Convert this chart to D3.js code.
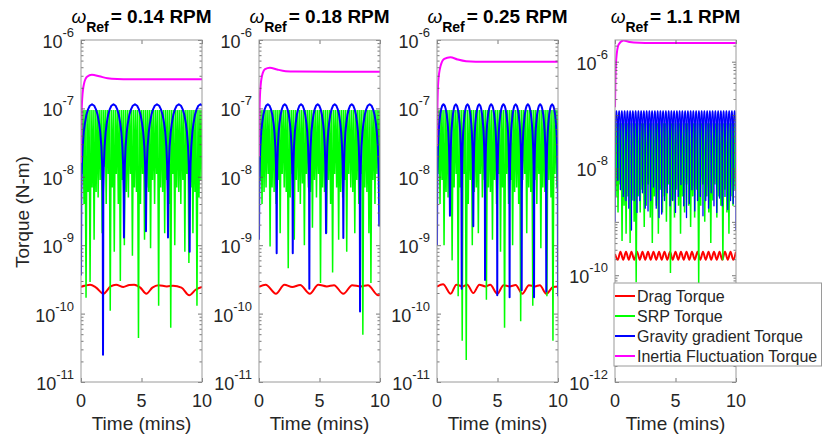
<!DOCTYPE html>
<html>
<head>
<meta charset="utf-8">
<script src="https://cdn.jsdelivr.net/npm/d3@7"></script>
<style>
	body { margin: 0; background: #fff; }
	svg { display: block; }
</style>
</head>
<body>
<script>
const width = 822;
const height = 438;

// DATA ================================================================
const rpmLabels = ['0.14', '0.18', '0.25', '1.1'];
const xTicks = [0, 5, 10];
const yDomains = [
	[1e-11, 1e-6],
	[1e-11, 1e-6],
	[1e-11, 1e-6],
	[1e-12, 2.55e-6],
];
const yLabelTicks = [
	[1e-6, 1e-7, 1e-8, 1e-9, 1e-10, 1e-11],
	[1e-6, 1e-7, 1e-8, 1e-9, 1e-10, 1e-11],
	[1e-6, 1e-7, 1e-8, 1e-9, 1e-10, 1e-11],
	[1e-6, 1e-8, 1e-10, 1e-12],
];
const legendLabels = ['Drag Torque', 'SRP Torque', 'Gravity gradient Torque', 'Inertia Fluctuation Torque'];
const seriesColors = ['#ff0000', '#00ff00', '#0000ff', '#ff00ff'];

// Drag torque [time, value]
const drag1 = [[0, 2.47e-10], [0.3, 2.55e-10], [0.75, 2.65e-10], [1.25, 2.4e-10], [1.85, 1.95e-10], [2.45, 2.5e-10], [2.9, 2.65e-10], [3.5, 2.45e-10], [4.0, 2.62e-10], [4.4, 2.65e-10], [4.9, 2.4e-10], [5.4, 1.95e-10], [5.9, 2.4e-10], [6.4, 2.6e-10], [7.1, 2.5e-10], [7.6, 2.55e-10], [8.3, 2.4e-10], [8.95, 1.85e-10], [9.5, 2.25e-10], [10, 2.45e-10]];
const drag2 = [[0, 2.47e-10], [0.55, 2.65e-10], [1.4, 1.95e-10], [2.1, 2.65e-10], [2.75, 2.45e-10], [3.4, 2.62e-10], [4.2, 1.95e-10], [4.9, 2.65e-10], [5.6, 2.5e-10], [6.2, 2.6e-10], [6.97, 1.95e-10], [7.7, 2.6e-10], [8.4, 2.5e-10], [9.0, 2.6e-10], [9.85, 1.85e-10], [10, 1.9e-10]];
const drag3 = [[0, 2.47e-10], [0.5, 2.68e-10], [1.13, 1.95e-10], [1.6, 2.65e-10], [2.1, 2.5e-10], [2.5, 2.65e-10], [3.0, 2.0e-10], [3.5, 2.65e-10], [4.0, 2.5e-10], [4.4, 2.65e-10], [4.98, 1.95e-10], [5.5, 2.6e-10], [6.0, 2.5e-10], [6.5, 2.62e-10], [7.05, 1.95e-10], [7.6, 2.6e-10], [8.1, 2.5e-10], [8.5, 2.6e-10], [9.03, 1.95e-10], [9.6, 2.45e-10], [10, 2.5e-10]];
const drag4 = [[0, 2.5e-10], [0.23, 1.95e-10], [0.45, 2.75e-10], [0.68, 1.95e-10], [0.91, 2.75e-10], [1.14, 1.95e-10], [1.36, 2.75e-10], [1.59, 1.95e-10], [1.82, 2.75e-10], [2.05, 1.95e-10], [2.27, 2.75e-10], [2.5, 1.95e-10], [2.73, 2.75e-10], [2.95, 1.95e-10], [3.18, 2.75e-10], [3.41, 1.95e-10], [3.64, 2.75e-10], [3.86, 1.95e-10], [4.09, 2.75e-10], [4.32, 1.95e-10], [4.55, 2.75e-10], [4.77, 1.95e-10], [5.0, 2.75e-10], [5.23, 1.95e-10], [5.45, 2.75e-10], [5.68, 1.95e-10], [5.91, 2.75e-10], [6.14, 1.95e-10], [6.36, 2.75e-10], [6.59, 1.95e-10], [6.82, 2.75e-10], [7.05, 1.95e-10], [7.27, 2.75e-10], [7.5, 1.95e-10], [7.73, 2.75e-10], [7.95, 1.95e-10], [8.18, 2.75e-10], [8.41, 1.95e-10], [8.64, 2.75e-10], [8.86, 1.95e-10], [9.09, 2.75e-10], [9.32, 1.95e-10], [9.55, 2.75e-10], [9.77, 1.95e-10], [10, 2.75e-10]];

// SRP torque: start value, oscillation peak and the 60 troughs over 10 mins
const srpStart = [7e-8, 7e-8, 6e-8, 7e-8];
const srpPeak = [9.5e-8, 9.5e-8, 9.5e-8, 7e-8];
const srpTroughs1 = [1.1e-8, 4e-9, 1.7e-10, 6e-9, 2.9e-10, 7e-9, 1.2e-9, 6e-9, 5e-9, 9e-9, 1.5e-9, 1.4e-8, 4e-9, 1.1e-8, 1.1e-10, 7e-9, 8e-10, 1.1e-8, 4e-9, 3e-10, 9e-9, 1e-9, 6e-9, 5e-9, 1.1e-8, 7e-10, 7e-9, 6e-9, 4.4e-11, 4e-9, 1.1e-8, 1.2e-9, 7e-9, 6e-9, 9e-10, 9e-9, 4e-9, 1.1e-8, 1.3e-10, 7e-9, 6e-9, 1.5e-9, 9e-9, 4e-9, 6.2e-11, 1.1e-8, 1e-9, 7e-9, 6e-9, 4e-9, 9e-9, 8e-10, 1.1e-8, 5.5e-10, 7e-9, 1.5e-9, 6e-9, 1.3e-10, 5e-9, 9e-9];
const srpTroughs2 = [9e-9, 4e-9, 6e-9, 7e-9, 1.1e-8, 9.6e-10, 7e-9, 6e-9, 4e-9, 9e-9, 1.5e-9, 1.1e-8, 7e-9, 6e-9, 4.6e-10, 5e-9, 1.1e-8, 1.2e-9, 9e-9, 6e-9, 4e-9, 8e-9, 1e-9, 1.1e-8, 7e-9, 6e-9, 1.8e-9, 9e-9, 5e-9, 1.1e-8, 2.8e-10, 7e-9, 6e-9, 1.5e-9, 9e-9, 4e-9, 4e-10, 1.1e-8, 7e-9, 1.2e-9, 6e-9, 5e-9, 9e-9, 8e-10, 1.1e-8, 7e-9, 6e-9, 1.5e-9, 9e-9, 4e-9, 1.1e-8, 4.9e-11, 7e-9, 6e-9, 1.5e-9, 2.8e-10, 9e-9, 4e-9, 1.1e-8, 7e-9];
const srpTroughs3 = [1.1e-8, 4e-9, 9e-9, 1e-9, 6e-9, 5e-9, 9e-9, 6e-10, 7e-9, 1.1e-8, 1.8e-10, 7e-9, 4e-11, 1.1e-8, 2.1e-11, 4e-9, 9e-9, 1e-9, 6e-9, 7e-9, 1.5e-9, 1.1e-8, 5e-9, 9e-9, 1.6e-10, 7e-9, 6e-9, 1.2e-9, 9e-9, 4e-9, 1.1e-8, 8e-10, 7e-9, 6.2e-11, 1.1e-8, 4e-9, 9e-9, 1e-9, 6e-9, 7e-9, 4e-9, 7.7e-11, 9e-9, 1.1e-8, 1.5e-9, 7e-9, 6e-9, 1.3e-10, 9e-9, 4e-9, 1.1e-8, 9e-10, 7e-9, 6e-9, 1.8e-10, 9e-9, 5e-9, 4e-11, 1.1e-8, 7e-9];
const srpTroughs4 = [3e-9, 1.5e-9, 5e-9, 4.4e-10, 2e-9, 6e-10, 3e-9, 4e-10, 2.5e-9, 1e-9, 7.4e-11, 3e-9, 1.5e-9, 4e-9, 8e-10, 2e-9, 5e-9, 1.2e-9, 4e-10, 3e-9, 2e-9, 6e-10, 4e-9, 1.5e-9, 3e-9, 1e-9, 5e-9, 1.1e-10, 2.5e-9, 1.2e-9, 4e-9, 2e-9, 6e-10, 3e-9, 1.5e-9, 5e-9, 2e-9, 8e-10, 3e-9, 1.2e-9, 4e-9, 7e-11, 2e-9, 5e-9, 1e-9, 3e-9, 1.5e-9, 4e-10, 2.5e-9, 5e-9, 1.2e-9, 3e-9, 2e-9, 1.9e-10, 4e-9, 1.5e-9, 6e-10, 3e-9, 2e-9, 4e-9];

// Gravity gradient torque: arch peak, dip times and dip values
const ggPeak = [1.15e-7, 1.15e-7, 1.15e-7, 1.2e-7];
const ggDipTimes1 = [0, 1.82, 3.55, 5.37, 7.19, 8.98, 10.77];
const ggDipValues1 = [3.6e-10, 2.5e-11, 1.3e-9, 1.6e-9, 1.3e-9, 8e-10, 1e-9];
const ggDipTimes2 = [0, 1.46, 2.79, 4.16, 5.54, 6.97, 8.35, 9.94];
const ggDipValues2 = [1.2e-9, 7.6e-10, 7.6e-10, 2.3e-10, 1.5e-9, 1.27e-9, 1.07e-10, 1.87e-9];
const ggDipTimes3 = [0, 1.07, 2.04, 3.0, 3.97, 4.98, 6.0, 7.0, 8.02, 9.03, 10.0];
const ggDipValues3 = [1e-9, 2.7e-9, 2.3e-10, 1.9e-9, 3.1e-10, 1.85e-10, 1.73e-10, 2.2e-10, 1.73e-10, 2.1e-10, 1.8e-10];
const ggDipTimes4 = [0, 0.23, 0.45, 0.68, 0.91, 1.14, 1.36, 1.59, 1.82, 2.05, 2.27, 2.5, 2.73, 2.95, 3.18, 3.41, 3.64, 3.86, 4.09, 4.32, 4.55, 4.77, 5.0, 5.23, 5.45, 5.68, 5.91, 6.14, 6.36, 6.59, 6.82, 7.05, 7.27, 7.5, 7.73, 7.95, 8.18, 8.41, 8.64, 8.86, 9.09, 9.32, 9.55, 9.77, 10.0];
const ggDipValues4 = [1e-9, 6e-9, 4e-9, 3e-9, 2.5e-9, 1.8e-9, 7e-10, 2.5e-9, 1.5e-9, 2.5e-9, 3.5e-9, 1.8e-9, 1.6e-9, 2.5e-9, 4.5e-9, 1.8e-9, 1.2e-9, 1.4e-9, 2.5e-9, 3.5e-9, 2e-9, 2.5e-9, 1.5e-9, 3e-9, 5e-9, 2e-9, 1.2e-9, 2.2e-9, 4e-9, 1.6e-9, 2.5e-9, 3e-9, 1.3e-9, 2.5e-9, 1.8e-9, 3.5e-9, 2e-9, 1.5e-9, 2.8e-9, 2e-9, 3e-9, 1.7e-9, 2.5e-9, 2.2e-9, 7e-10];
// arch shape: [fraction of half arch, fraction of peak]
const archProfile = [[0, 0], [0.03, 0.05], [0.08, 0.13], [0.15, 0.24], [0.25, 0.39], [0.35, 0.52], [0.5, 0.71], [0.65, 0.85], [0.8, 0.95], [1, 1]];

// Inertia fluctuation torque [time, value]
const inertia1 = [[0, 1.6e-8], [0.03, 6e-8], [0.1, 1.4e-7], [0.25, 2.3e-7], [0.5, 2.9e-7], [0.9, 3.1e-7], [1.5, 2.95e-7], [2.2, 2.75e-7], [3.0, 2.68e-7], [4, 2.66e-7], [10, 2.66e-7]];
const inertia2 = [[0, 2e-8], [0.03, 7e-8], [0.1, 1.8e-7], [0.25, 3.0e-7], [0.5, 3.75e-7], [0.9, 3.94e-7], [1.5, 3.7e-7], [2.2, 3.5e-7], [3, 3.45e-7], [10, 3.44e-7]];
const inertia3 = [[0, 2.8e-8], [0.03, 9e-8], [0.1, 2.4e-7], [0.3, 4.2e-7], [0.6, 5.3e-7], [1.1, 5.6e-7], [1.7, 5.2e-7], [2.4, 4.9e-7], [3.2, 4.82e-7], [10, 4.8e-7]];
const inertia4 = [[0, 1.4e-7], [0.03, 4e-7], [0.1, 1.1e-6], [0.3, 2.1e-6], [0.7, 2.5e-6], [1.2, 2.35e-6], [2, 2.26e-6], [3, 2.24e-6], [10, 2.24e-6]];

const dragData = [drag1, drag2, drag3, drag4];
const srpTroughs = [srpTroughs1, srpTroughs2, srpTroughs3, srpTroughs4];
const ggDipTimes = [ggDipTimes1, ggDipTimes2, ggDipTimes3, ggDipTimes4];
const ggDipValues = [ggDipValues1, ggDipValues2, ggDipValues3, ggDipValues4];
const inertiaData = [inertia1, inertia2, inertia3, inertia4];
// =================================================================

const font = '"Liberation Sans", Arial, Helvetica, sans-serif';
const textColor = '#262626';
const frameColor = '#9a9a9a';
const panelX = [81, 259, 437, 615];
const panelW = 121;
const plotTop = 40;
const plotBottom = 382;
const ggWidth = [2, 2, 2, 1.3];

const svg = d3.select('body').append('svg').attr('width', width).attr('height', height)
	.style('font-family', font);

// SRP zigzag: start, then trough / peak pairs
function srpPoints(p) {
	const troughs = srpTroughs[p];
	const step = 10 / troughs.length;
	const pts = [[0, srpStart[p]]];
	troughs.forEach((v, i) => {
		pts.push([(i + 0.5) * step, v]);
		pts.push([(i + 1) * step, srpPeak[p]]);
	});
	return pts;
}

// Gravity gradient arches between the dips
function ggPoints(p) {
	const times = ggDipTimes[p];
	const dips = ggDipValues[p];
	const peak = ggPeak[p];
	const pts = [];
	for (let k = 0; k < times.length - 1; k++) {
		const half = (times[k + 1] - times[k]) / 2;
		archProfile.forEach(([f, s]) => {
			pts.push([times[k] + f * half, f === 0 ? dips[k] : Math.max(peak * s, dips[k])]);
		});
		archProfile.slice().reverse().forEach(([f, s]) => {
			if (f === 1) return;
			pts.push([times[k + 1] - f * half, f === 0 ? dips[k + 1] : Math.max(peak * s, dips[k + 1])]);
		});
	}
	return pts;
}

rpmLabels.forEach((rpm, p) => {
	const x0 = panelX[p];
	const x = d3.scaleLinear().domain([0, 10]).range([x0, x0 + panelW]);
	const y = d3.scaleLog().domain(yDomains[p]).range([plotBottom, plotTop]);

	const g = svg.append('g');

	// clip for the data
	g.append('clipPath').attr('id', 'clip' + p)
		.append('rect').attr('x', x0).attr('y', plotTop).attr('width', panelW).attr('height', plotBottom - plotTop);

	const data = g.append('g').attr('clip-path', `url(#clip${p})`);
	const line = d3.line().x((d) => x(d[0])).y((d) => y(d[1]));
	const smooth = d3.line().x((d) => x(d[0])).y((d) => y(d[1])).curve(d3.curveMonotoneX);

	data.append('path').attr('d', smooth(dragData[p]))
		.attr('fill', 'none').attr('stroke', seriesColors[0]).attr('stroke-width', 2);
	data.append('path').attr('d', line(srpPoints(p)))
		.attr('fill', 'none').attr('stroke', seriesColors[1]).attr('stroke-width', 1.5);
	data.append('path').attr('d', line(ggPoints(p)))
		.attr('fill', 'none').attr('stroke', seriesColors[2]).attr('stroke-width', ggWidth[p]).attr('stroke-linejoin', 'round');
	data.append('path').attr('d', smooth(inertiaData[p]))
		.attr('fill', 'none').attr('stroke', seriesColors[3]).attr('stroke-width', 2);

	// axes ticks ================================================================
	const [lo, hi] = yDomains[p];
	const decades = d3.range(Math.ceil(Math.log10(lo)), Math.floor(Math.log10(hi)) + 1).map((e) => Math.pow(10, e));
	const minors = [];
	decades.forEach((d) => {
		for (let m = 2; m <= 9; m++) {
			const v = m * d;
			if (v > lo && v < hi) minors.push(v);
		}
	});

	const axes = [
		d3.axisBottom(x).tickValues(xTicks).tickSize(-4).tickFormat(''),
		d3.axisTop(x).tickValues(xTicks).tickSize(-4).tickFormat(''),
		d3.axisLeft(y).tickValues(decades).tickSize(-4).tickFormat(''),
		d3.axisRight(y).tickValues(decades).tickSize(-4).tickFormat(''),
		d3.axisLeft(y).tickValues(minors).tickSize(-2.5).tickFormat(''),
		d3.axisRight(y).tickValues(minors).tickSize(-2.5).tickFormat(''),
	];
	const shifts = [`translate(0,${plotBottom})`, `translate(0,${plotTop})`, `translate(${x0},0)`, `translate(${x0 + panelW},0)`, `translate(${x0},0)`, `translate(${x0 + panelW},0)`];
	axes.forEach((ax, i) => {
		const a = g.append('g').attr('transform', shifts[i]).call(ax.tickSizeOuter(0));
		a.select('.domain').remove();
		a.selectAll('line').attr('stroke', '#555').attr('stroke-width', 0.8);
	});

	g.append('rect').attr('x', x0).attr('y', plotTop).attr('width', panelW).attr('height', plotBottom - plotTop)
		.attr('fill', 'none').attr('stroke', frameColor).attr('stroke-width', 1);

	// x tick labels
	g.selectAll('.xl').data(xTicks).join('text')
		.attr('x', (d) => x(d)).attr('y', plotBottom + 25)
		.attr('text-anchor', 'middle').attr('font-size', 18).attr('fill', textColor)
		.text((d) => d);

	// y tick labels 10^n
	yLabelTicks[p].forEach((v) => {
		const t = g.append('text').attr('x', x0 - 7).attr('y', y(v) + 8)
			.attr('text-anchor', 'end').attr('fill', textColor).attr('font-size', 18);
		t.append('tspan').text('10');
		t.append('tspan').attr('dy', -11).attr('font-size', 13).text(Math.round(Math.log10(v)));
	});

	// x label
	g.append('text').attr('x', x0 + panelW / 2).attr('y', 430)
		.attr('text-anchor', 'middle').attr('font-size', 19).attr('fill', textColor)
		.text('Time (mins)');

	// title
	const title = g.append('text').attr('x', x0 + panelW / 2).attr('y', 23)
		.attr('text-anchor', 'middle').attr('fill', '#000');
	title.append('tspan').attr('font-style', 'italic').attr('font-size', 19).text('ω');
	title.append('tspan').attr('font-weight', 'bold').attr('font-size', 14).attr('dy', 9).text('Ref');
	title.append('tspan').attr('font-weight', 'bold').attr('font-size', 19).attr('dy', -9).attr('dx', 2)
		.text(`= ${rpm} RPM`);
});

// y label
svg.append('text').attr('transform', 'translate(29,212) rotate(-90)')
	.attr('text-anchor', 'middle').attr('font-size', 19).attr('fill', textColor)
	.text('Torque (N-m)');

// Legend ================================================================
const legend = svg.append('g').attr('transform', 'translate(614,283)');
legend.append('rect').attr('x', 0).attr('y', 0).attr('width', 207.5).attr('height', 83)
	.attr('fill', '#fff').attr('stroke', frameColor).attr('stroke-width', 1);
legendLabels.forEach((label, i) => {
	const ly = 13 + i * 20;
	legend.append('line').attr('x1', 1).attr('x2', 21).attr('y1', ly).attr('y2', ly)
		.attr('stroke', seriesColors[i]).attr('stroke-width', 2);
	legend.append('text').attr('x', 23).attr('y', ly + 6)
		.attr('font-size', 16).attr('fill', textColor).text(label);
});
</script>
</body>
</html>
